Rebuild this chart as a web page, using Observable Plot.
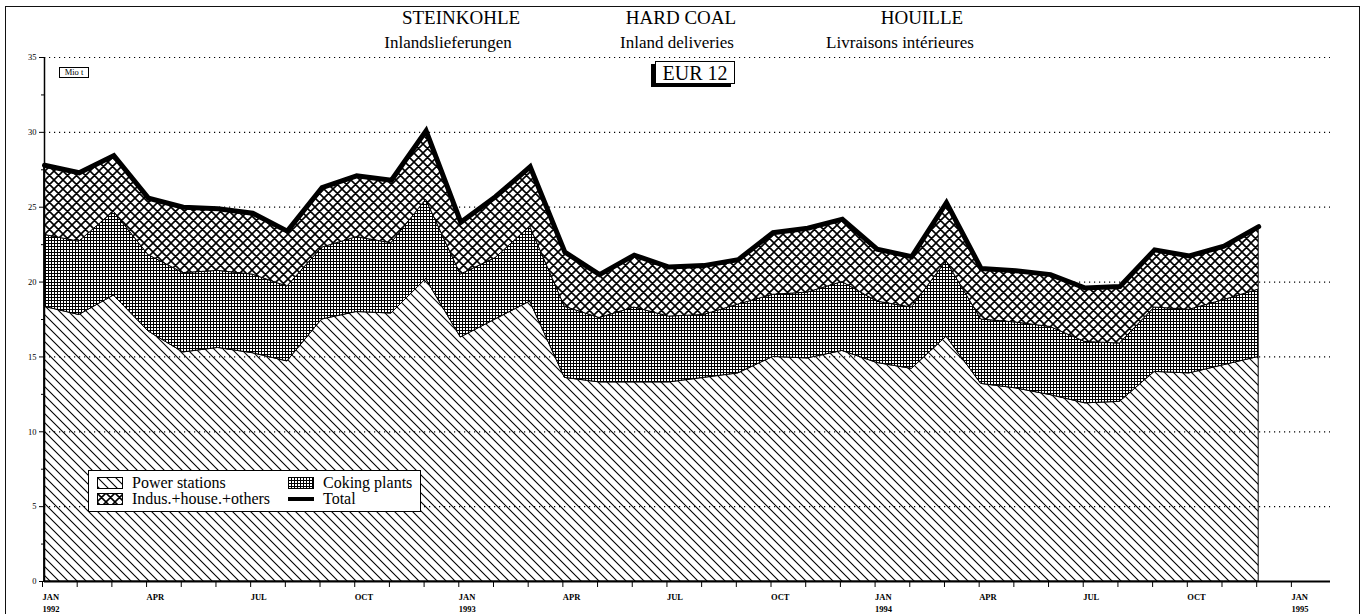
<!DOCTYPE html>
<html><head><meta charset="utf-8">
<script src="https://cdn.jsdelivr.net/npm/d3@7"></script>
<script src="https://cdn.jsdelivr.net/npm/@observablehq/plot@0.6"></script>
<style>
html,body{margin:0;padding:0;background:#fff;}
#wrap{position:relative;width:1366px;height:614px;overflow:hidden;font-family:"Liberation Serif","Times New Roman",serif;color:#000;}
#chart{position:absolute;left:0;top:0;}
.frame{position:absolute;left:5px;top:6px;width:1355px;height:640px;border:1.5px solid #111;box-sizing:border-box;}
.t{position:absolute;white-space:nowrap;transform:translateX(-50%);line-height:1;}
.ttl{font-size:19px;top:8px;}
.sub{font-size:17px;top:34px;}
#eur{position:absolute;left:655px;top:61px;width:80px;height:23px;border:1.3px solid #000;box-sizing:border-box;background:#fff;font-size:20px;text-align:center;line-height:22px;box-shadow:-4px 3px 0 #000;}
#mio{position:absolute;left:59px;top:67px;width:30px;height:11px;border:1px solid #000;box-sizing:border-box;font-size:8.5px;line-height:9px;text-align:center;background:#fff;}
#legend{position:absolute;left:88px;top:470px;width:333px;height:42px;border:1.5px solid #000;box-sizing:border-box;background:#fff;font-size:16px;}
.li{position:absolute;display:flex;align-items:center;height:16px;line-height:1;}
.li svg{margin-right:9px;}
</style></head>
<body>
<svg width="0" height="0" style="position:absolute">
  <defs>
    <pattern id="pw" patternUnits="userSpaceOnUse" width="9" height="9">
      <path d="M0,0L9,9M-2,7L2,11M7,-2L11,2" stroke="#000" stroke-width="1.1" fill="none"/>
    </pattern>
    <pattern id="ck" patternUnits="userSpaceOnUse" width="3" height="3">
      <rect width="3" height="3" fill="#fff"/>
      <path d="M0,0.5H3M0.5,0V3" stroke="#000" stroke-width="1" fill="none"/>
    </pattern>
    <pattern id="ih" patternUnits="userSpaceOnUse" width="9" height="9">
      <rect width="9" height="9" fill="#fff"/>
      <path d="M0,0L9,9M-2,7L2,11M7,-2L11,2M0,9L9,0M-2,2L2,-2M7,11L11,7" stroke="#000" stroke-width="1.6" fill="none"/>
    </pattern>
  </defs>
</svg>
<div id="wrap">
  <div id="chart"></div>
  <div class="frame"></div>
  <div class="t ttl" style="left:461px">STEINKOHLE</div>
  <div class="t ttl" style="left:681px">HARD COAL</div>
  <div class="t ttl" style="left:922px">HOUILLE</div>
  <div class="t sub" style="left:448px">Inlandslieferungen</div>
  <div class="t sub" style="left:677px">Inland deliveries</div>
  <div class="t sub" style="left:900px">Livraisons intérieures</div>
  <div id="eur">EUR 12</div>
  <div id="mio">Mio t</div>
  <div id="legend"></div>
</div>
<script>
// Month index 0 = JAN 1992 ... 35 = DEC 1994
const months = d3.range(36);
const seriesNames = ["Power stations", "Coking plants", "Indus.+house.+others"];
const power = [18.35, 17.8, 19.1, 16.7, 15.3, 15.6, 15.25, 14.7, 17.5, 18.0, 17.9, 20.2,
               16.3, 17.5, 18.7, 13.6, 13.3, 13.3, 13.3, 13.6, 13.9, 15.0, 14.9, 15.4,
               14.6, 14.2, 16.35, 13.2, 12.9, 12.45, 11.9, 12.0, 14.0, 13.9, 14.45, 15.0];
const coking = [4.8, 4.9, 5.6, 5.1, 5.3, 5.15, 5.25, 5.0, 4.8, 5.0, 4.7, 5.3,
                4.2, 4.1, 5.0, 4.75, 4.3, 5.0, 4.4, 4.2, 4.6, 4.15, 4.4, 4.6,
                4.1, 4.1, 5.05, 4.3, 4.4, 4.55, 4.1, 3.9, 4.3, 4.25, 4.35, 4.5];
const others = [4.65, 4.6, 3.75, 3.8, 4.4, 4.15, 4.1, 3.7, 4.0, 4.1, 4.2, 4.6,
                3.5, 4.1, 4.0, 3.65, 2.9, 3.5, 3.3, 3.3, 3.0, 4.15, 4.3, 4.2,
                3.5, 3.4, 3.9, 3.4, 3.45, 3.5, 3.6, 3.8, 3.85, 3.6, 3.6, 4.2];
const monthLabels = ["JAN", "APR", "JUL", "OCT"];
const years = [1992, 1993, 1994, 1995];
const yMajor = [0, 5, 10, 15, 20, 25, 30, 35];
const yMinor = [2.5, 7.5, 12.5, 17.5, 22.5, 27.5, 32.5];
const patterns = ["url(#pw)", "url(#ck)", "url(#ih)"];

const seriesValues = [power, coking, others];
const rows = [];
seriesNames.forEach((s, k) => months.forEach(m => rows.push({m, series: s, value: seriesValues[k][m]})));
const totals = months.map(m => ({m, total: power[m] + coking[m] + others[m]}));

const fmtX = i => {
  if (i % 3 !== 0) return "";
  const lab = monthLabels[(i % 12) / 3];
  return i % 12 === 0 ? lab + "\n" + years[i / 12] : lab;
};

const chart = Plot.plot({
  width: 1366, height: 614,
  marginLeft: 44, marginRight: 36, marginTop: 57, marginBottom: 33,
  style: {fontFamily: "Liberation Serif, serif", color: "#000", background: "transparent"},
  x: {type: "linear", domain: [0, 37.07]},
  y: {domain: [0, 35]},
  color: {type: "ordinal", domain: seriesNames, range: patterns},
  marks: [
    Plot.gridY(yMajor.slice(1), {stroke: "#000", strokeOpacity: 1, strokeWidth: 1.2, strokeDasharray: "1.2,3.8"}),
    Plot.areaY(rows, Plot.stackY({x: "m", y: "value", z: "series", fill: "series", order: seriesNames,
      stroke: "#000", strokeWidth: 1})),
    Plot.lineY(totals, {x: "m", y: "total", stroke: "#000", strokeWidth: 5, strokeLinejoin: "miter", strokeMiterlimit: 4}),
    Plot.ruleX([0], {y1: 0, y2: 35, stroke: "#000", strokeWidth: 1.5}),
    Plot.ruleY([0], {stroke: "#000", strokeWidth: 2}),
    Plot.axisY(yMajor, {tickSize: 5, tickPadding: 3, fontSize: 8.5, label: null, tickFormat: d => d}),
    Plot.axisY(yMinor, {tickSize: 3, label: null, tickFormat: () => ""}),
    Plot.axisX(d3.range(37), {tickSize: 6, tickPadding: 4, fontSize: 8.5, fontWeight: "bold", label: null,
      textAnchor: "start", dx: -2, lineHeight: 1.4, tickFormat: fmtX})
  ]
});
document.getElementById("chart").appendChild(chart);

// Legend
const legendItems = [
  {name: seriesNames[0], fill: patterns[0], left: 8, top: 4},
  {name: seriesNames[2], fill: patterns[2], left: 8, top: 20},
  {name: seriesNames[1], fill: patterns[1], left: 199, top: 4},
  {name: "Total", fill: null, left: 199, top: 20}
];
const lg = d3.select("#legend");
legendItems.forEach(it => {
  const d = lg.append("div").attr("class", "li").style("left", it.left + "px").style("top", it.top + "px");
  const s = d.append("svg").attr("width", 26).attr("height", 12);
  if (it.fill) s.append("rect").attr("x", 0.5).attr("y", 0.5).attr("width", 25).attr("height", 11)
      .attr("fill", it.fill).attr("stroke", "#000");
  else s.append("rect").attr("x", 0).attr("y", 4).attr("width", 26).attr("height", 4).attr("fill", "#000");
  d.append("span").text(it.name);
});
</script>
</body></html>
